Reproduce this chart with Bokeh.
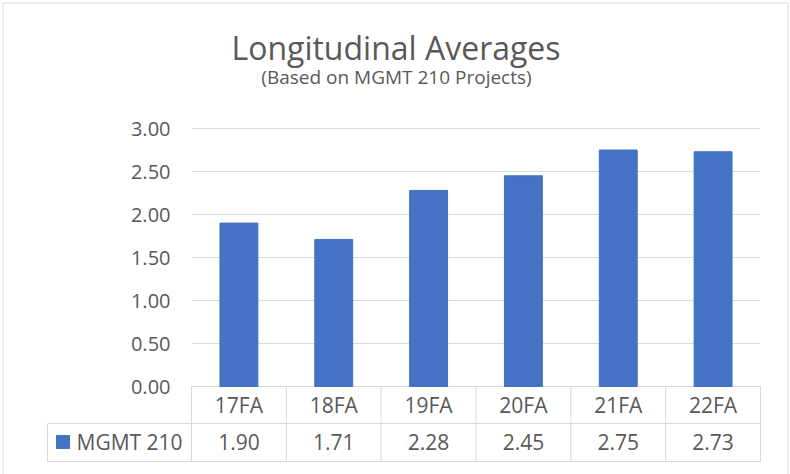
from bokeh.plotting import figure
from bokeh.models import (Range1d, FixedTicker, NumeralTickFormatter, ColumnDataSource)
from bokeh.embed import file_html
from bokeh.resources import INLINE
from bokeh.core.properties import value

# ---- data ----
categories = ["17FA", "18FA", "19FA", "20FA", "21FA", "22FA"]
scores = [1.90, 1.71, 2.28, 2.45, 2.75, 2.73]
series_name = "MGMT 210"
y_ticks = [0.0, 0.5, 1.0, 1.5, 2.0, 2.5, 3.0]
title_text = "Longitudinal Averages"
subtitle_text = "(Based on MGMT 210 Projects)"

FONT = "Open Sans"
TXT = "#595959"
GRID = "#d9d9d9"
BAR = "#4472C4"

# ---- layout constants (pixel geometry of the chart) ----
W, H = 790, 474
X0_PX = 191.0            # left edge of first category column
COL_PX = 569.0 / 6       # width of one category column
Y0_PX = 386.0            # pixel row of value 0
UNIT_PX = 86.0           # pixels per 1.0 on the value axis


def dx(px):
    return (px - X0_PX) / COL_PX


def dy(py):
    return (Y0_PX - py) / UNIT_PX


n = len(categories)
ROW1 = dy(423)           # bottom of category-name row
ROW2 = dy(461)           # bottom of value row
LEG_LEFT = dx(47)        # left edge of legend cell

p = figure(width=W, height=H,
           x_range=Range1d(dx(0), dx(W)), y_range=Range1d(dy(H), dy(0)),
           output_backend="svg", toolbar_location=None, title=None,
           x_axis_location=None, min_border=0)
p.outline_line_color = None
p.grid.visible = False

# outer chart border
p.segment(x0=[dx(2.5), dx(2.5), dx(787.5)], y0=[dy(2.5), dy(2.5), dy(2.5)],
          x1=[dx(787.5), dx(2.5), dx(787.5)], y1=[dy(2.5), dy(480), dy(480)],
          line_color=GRID, line_width=1)

# gridlines at the value ticks
p.segment(x0=[0] * len(y_ticks), y0=y_ticks, x1=[n] * len(y_ticks), y1=y_ticks,
          line_color=GRID, line_width=1)

# bars
xc = [i + 0.5 for i in range(n)]
p.vbar(x=xc, top=scores, width=0.4, color=BAR)

# value axis drawn at the left edge of the category columns
p.yaxis.fixed_location = 0
p.yaxis.ticker = FixedTicker(ticks=y_ticks)
p.yaxis.formatter = NumeralTickFormatter(format="0.00")
p.yaxis.axis_line_color = None
p.yaxis.major_tick_line_color = None
p.yaxis.minor_tick_line_color = None
p.yaxis.major_tick_out = 0
p.yaxis.major_tick_in = 0
p.yaxis.major_label_standoff = 21
p.yaxis.major_label_text_font = FONT
p.yaxis.major_label_text_font_size = "20px"
p.yaxis.major_label_text_color = TXT

# titles
p.text(x=[dx(395.5)], y=[dy(47)], text=[title_text], text_align="center",
       text_baseline="alphabetic", text_font=value(FONT), text_font_size="32px",
       text_color=TXT)
p.text(x=[dx(396)], y=[dy(76)], text=[subtitle_text], text_align="center",
       text_baseline="alphabetic", text_font=value(FONT), text_font_size="19px",
       text_color=TXT)

# ---- data table ----
xs = list(range(n + 1))
p.segment(x0=xs, y0=[0] * len(xs), x1=xs, y1=[ROW2] * len(xs),
          line_color=GRID, line_width=1)
p.segment(x0=[LEG_LEFT, LEG_LEFT, LEG_LEFT], y0=[ROW1, ROW2, ROW1],
          x1=[n, n, LEG_LEFT], y1=[ROW1, ROW2, ROW2],
          line_color=GRID, line_width=1)

src = ColumnDataSource(dict(x=xc, cat=categories,
                            val=["%.2f" % v for v in scores]))
p.text(x="x", y=dy(404), text="cat", source=src, text_align="center",
       text_baseline="alphabetic", text_font=value(FONT), text_font_size="21px",
       text_color=TXT)
p.text(x="x", y=dy(441), text="val", source=src, text_align="center",
       text_baseline="alphabetic", text_font=value(FONT), text_font_size="21px",
       text_color=TXT)

# legend key of the series
p.scatter(x=[dx(62.5)], y=[dy(441.5)], marker="square", size=13, color=BAR)
p.text(x=[dx(76)], y=[dy(441)], text=[series_name], text_align="left",
       text_baseline="alphabetic", text_font=value(FONT), text_font_size="21px",
       text_color=TXT)

open("out.html", "w").write(file_html(p, INLINE))
